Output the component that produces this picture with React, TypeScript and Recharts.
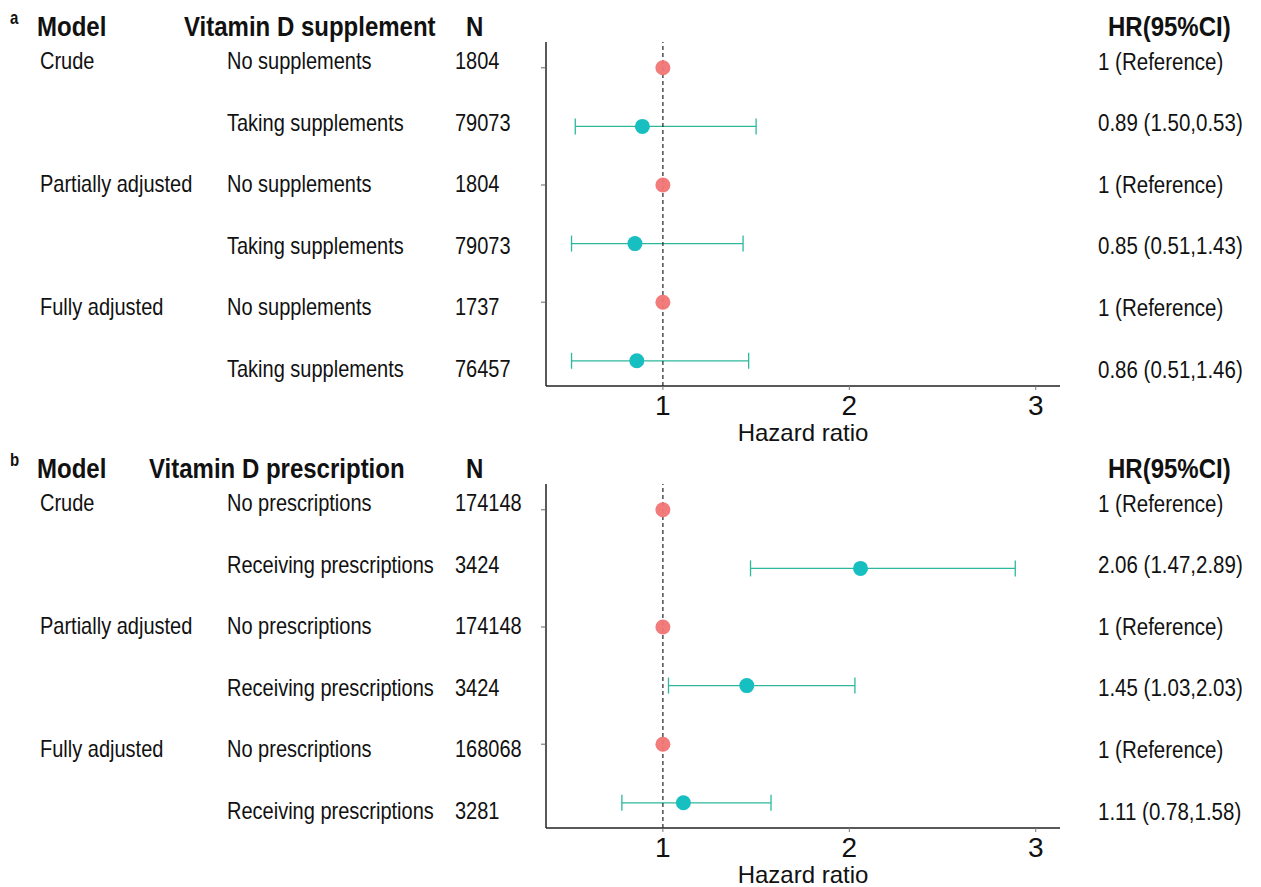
import React from "react";
import {
  ComposedChart,
  Scatter,
  ErrorBar,
  XAxis,
  YAxis,
  ReferenceLine,
} from "recharts";

// rows are shared by both panels: reference row then exposed row, per model
const rowIndex = [0, 1, 2, 3, 4, 5];
const modelNames = ["Crude", "", "Partially adjusted", "", "Fully adjusted", ""];
const xTicks = [1, 2, 3];

const supplementGroups = [
  "No supplements",
  "Taking supplements",
  "No supplements",
  "Taking supplements",
  "No supplements",
  "Taking supplements",
];
const supplementN = ["1804", "79073", "1804", "79073", "1737", "76457"];
const supplementHR = [1, 0.89, 1, 0.85, 1, 0.86];
const supplementLower = [1, 0.53, 1, 0.51, 1, 0.51];
const supplementUpper = [1, 1.5, 1, 1.43, 1, 1.46];
const supplementLabels = [
  "1 (Reference)",
  "0.89 (1.50,0.53)",
  "1 (Reference)",
  "0.85 (0.51,1.43)",
  "1 (Reference)",
  "0.86 (0.51,1.46)",
];

const prescriptionGroups = [
  "No prescriptions",
  "Receiving prescriptions",
  "No prescriptions",
  "Receiving prescriptions",
  "No prescriptions",
  "Receiving prescriptions",
];
const prescriptionN = ["174148", "3424", "174148", "3424", "168068", "3281"];
const prescriptionHR = [1, 2.06, 1, 1.45, 1, 1.11];
const prescriptionLower = [1, 1.47, 1, 1.03, 1, 0.78];
const prescriptionUpper = [1, 2.89, 1, 2.03, 1, 1.58];
const prescriptionLabels = [
  "1 (Reference)",
  "2.06 (1.47,2.89)",
  "1 (Reference)",
  "1.45 (1.03,2.03)",
  "1 (Reference)",
  "1.11 (0.78,1.58)",
];

const FONT = '"Liberation Sans", Arial, Helvetica, sans-serif';
const RED = "#F17475";
const TEAL = "#17BFC1";
const TEAL_LINE = "#2DB89D";
const PANEL_H = 445;
const ROW_STEP = 61.6;

interface PanelSpec {
  letter: string;
  groupTitle: string;
  groupTitleX: number;
  groups: string[];
  n: string[];
  hr: number[];
  lower: number[];
  upper: number[];
  labels: string[];
}

const panels: PanelSpec[] = [
  {
    letter: "a",
    groupTitle: "Vitamin D supplement",
    groupTitleX: 184,
    groups: supplementGroups,
    n: supplementN,
    hr: supplementHR,
    lower: supplementLower,
    upper: supplementUpper,
    labels: supplementLabels,
  },
  {
    letter: "b",
    groupTitle: "Vitamin D prescription",
    groupTitleX: 149,
    groups: prescriptionGroups,
    n: prescriptionN,
    hr: prescriptionHR,
    lower: prescriptionLower,
    upper: prescriptionUpper,
    labels: prescriptionLabels,
  },
];

function Cell({
  x,
  cy,
  text,
  size = 20,
  bold = false,
}: {
  x: number;
  cy: number;
  text: string;
  size?: number;
  bold?: boolean;
}) {
  const lh = Math.round(size * 1.3);
  return (
    <div
      style={{
        position: "absolute",
        left: x,
        top: cy - lh / 2,
        lineHeight: `${lh}px`,
        fontSize: size,
        fontWeight: bold ? 700 : 400,
        fontFamily: FONT,
        color: "#111",
        whiteSpace: "nowrap",
        // the source figure's text is slightly stretched vertically
        transform: "scaleY(1.18)",
        transformOrigin: "left center",
      }}
    >
      {text}
    </div>
  );
}

function YTick(props: any) {
  const { x, y, payload } = props;
  // only the reference rows carry a tick mark
  if (payload.value % 2 !== 0) return null;
  return <line x1={x} x2={x + 5} y1={y} y2={y} stroke="#666" strokeWidth={1} />;
}

function XTick(props: any) {
  const { x, y, payload } = props;
  return (
    <text
      x={x}
      y={y}
      dy={23}
      textAnchor="middle"
      fontSize={28}
      fontFamily={FONT}
      fill="#111"
    >
      {payload.value}
    </text>
  );
}

function Panel({ spec, top }: { spec: PanelSpec; top: number }) {
  const rows = rowIndex.map((i) => ({
    row: i,
    hr: spec.hr[i],
    ci: [spec.hr[i] - spec.lower[i], spec.upper[i] - spec.hr[i]],
  }));
  const refRows = rows.filter((r) => r.row % 2 === 0);
  const exposedRows = rows.filter((r) => r.row % 2 === 1);
  const textTop = top + 61;

  return (
    <>
      <div style={{ position: "absolute", left: 0, top, width: 1261, height: PANEL_H }}>
        <ComposedChart
          width={1261}
          height={PANEL_H}
          margin={{ top: 42, right: 201, bottom: 0, left: 0 }}
        >
          <XAxis
            type="number"
            dataKey="hr"
            domain={[0.373, 3.13]}
            ticks={xTicks}
            allowDataOverflow
            height={59}
            axisLine={{ stroke: "#222", strokeWidth: 1.5 }}
            tickLine={{ stroke: "#777" }}
            tickSize={4}
            tickMargin={2}
            tick={<XTick />}
            label={{
              value: "Hazard ratio",
              position: "insideBottom",
              offset: 4,
              fontSize: 24,
              fontFamily: FONT,
              fill: "#111",
            }}
          />
          <YAxis
            type="number"
            dataKey="row"
            domain={[-0.44, 5.43]}
            ticks={rowIndex}
            reversed
            allowDataOverflow
            width={546}
            axisLine={{ stroke: "#222", strokeWidth: 1.5 }}
            tickLine={false}
            tickSize={5}
            tickMargin={0}
            tick={<YTick />}
          />
          <Scatter
            data={exposedRows}
            isAnimationActive={false}
            shape={(p: any) => <circle cx={p.cx} cy={p.cy} r={7.5} fill={TEAL} />}
          >
            <ErrorBar
              dataKey="ci"
              direction="x"
              width={8}
              stroke={TEAL_LINE}
              strokeWidth={1.3}
            />
          </Scatter>
          <Scatter
            data={refRows}
            isAnimationActive={false}
            shape={(p: any) => (
              <circle cx={p.cx} cy={p.cy} r={7.5} fill={RED} fillOpacity={0.95} />
            )}
          />
          <ReferenceLine x={1} stroke="#222" strokeDasharray="4 3" strokeWidth={1.2} />
        </ComposedChart>
      </div>

      {/* header line */}
      <Cell x={10} cy={top + 18} text={spec.letter} size={15} bold />
      <Cell x={37} cy={top + 25} text="Model" size={24} bold />
      <Cell x={spec.groupTitleX} cy={top + 25} text={spec.groupTitle} size={24} bold />
      <Cell x={466} cy={top + 25} text="N" size={24} bold />
      <Cell x={1108} cy={top + 25} text="HR(95%CI)" size={24} bold />

      {rowIndex.map((i) => (
        <React.Fragment key={i}>
          {modelNames[i] && <Cell x={40} cy={textTop + i * ROW_STEP} text={modelNames[i]} />}
          <Cell x={227} cy={textTop + i * ROW_STEP} text={spec.groups[i]} />
          <Cell x={455} cy={textTop + i * ROW_STEP} text={spec.n[i]} />
          <Cell x={1098} cy={textTop + i * ROW_STEP} text={spec.labels[i]} size={20.5} />
        </React.Fragment>
      ))}
    </>
  );
}

export default function App() {
  return (
    <div
      style={{
        position: "absolute",
        left: 0,
        top: 0,
        width: 1261,
        height: 887,
        background: "#fff",
        overflow: "hidden",
      }}
    >
      <Panel spec={panels[0]} top={0} />
      <Panel spec={panels[1]} top={442} />
    </div>
  );
}
